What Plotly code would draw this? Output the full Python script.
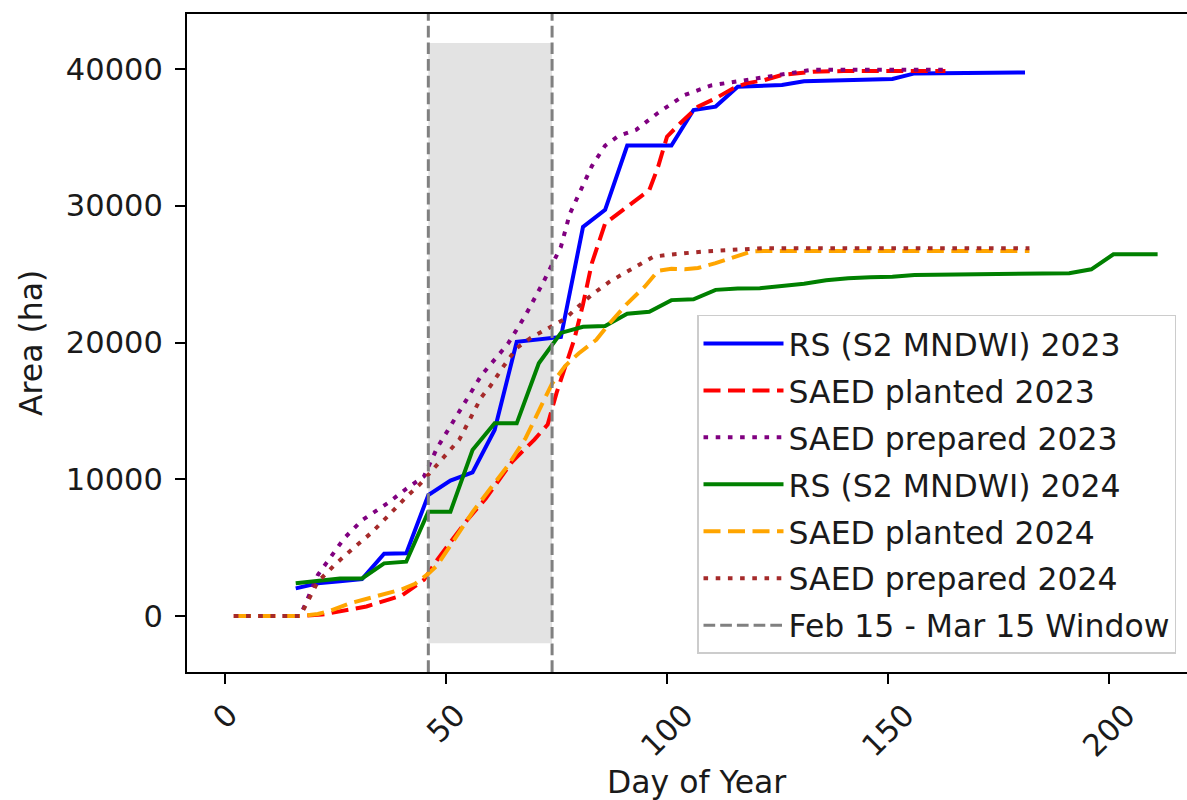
import plotly.graph_objects as go

# ---------------- data ----------------
RS_2023_DAYS = [16, 21, 26, 31, 36, 41, 46, 51, 56, 61, 66, 71, 76, 81, 86, 91, 96,
                101, 106, 111, 116, 121, 126, 131, 136, 141, 146, 151, 156, 161, 166,
                171, 176, 181]
RS_2023_AREA = [2020, 2390, 2540, 2700, 4550, 4580, 8850, 9900, 10500, 13600, 20050,
                20250, 20400, 28450, 29700, 34400, 34400, 34400, 37000, 37250, 38700,
                38750, 38830, 39100, 39150, 39200, 39250, 39270, 39680, 39690, 39700,
                39720, 39740, 39750]

RS_2024_DAYS = [16, 21, 26, 31, 36, 41, 46, 51, 56, 61, 66, 71, 76, 81, 86, 91, 96,
                101, 106, 111, 116, 121, 126, 131, 136, 141, 146, 151, 156, 161, 166,
                171, 176, 181, 186, 191, 196, 201, 206, 211]
RS_2024_AREA = [2390, 2570, 2750, 2750, 3850, 3970, 7630, 7630, 12140, 14090, 14090,
                18480, 20700, 21150, 21200, 22100, 22250, 23100, 23160, 23850, 23950,
                23970, 24100, 24300, 24550, 24700, 24770, 24800, 24940, 24960, 24990,
                25030, 25060, 25060, 25060, 25060, 25350, 26450, 26450, 26450]

PLANTED_2023_DAYS = [2, 7, 12, 17, 22, 27, 32, 37, 40, 45, 48, 51, 55, 59, 62, 65, 70,
                     73, 75, 79, 81, 83, 86, 89, 93, 96, 98, 100, 103, 107, 111, 115,
                     118, 122, 126, 133, 140, 147, 154, 163]
PLANTED_2023_AREA = [0, 0, 0, 0, 100, 400, 700, 1200, 1500, 2650, 4100, 5400, 7100,
                     8600, 9950, 11300, 12900, 14000, 16300, 20200, 22800, 25800, 28700,
                     29450, 30400, 31150, 32860, 35050, 36030, 37250, 37860, 38590,
                     38950, 39190, 39560, 39800, 39850, 39850, 39850, 39850]

PREPARED_2023_DAYS = [2, 7, 12, 17, 19, 21, 23, 27, 31, 37, 41, 45, 48, 54, 58, 64, 68,
                      72, 76, 78, 81, 83, 86, 89, 93, 98, 104, 110, 116, 120, 125, 130,
                      133, 140, 147, 154, 163]
PREPARED_2023_AREA = [0, 0, 0, 0, 1500, 3000, 3900, 5700, 7000, 8300, 9300, 10200,
                      12300, 15500, 17600, 19900, 22000, 24400, 27000, 29400, 31400,
                      32900, 34400, 35100, 35550, 36800, 38100, 38800, 39100, 39300,
                      39600, 39850, 39950, 39950, 39950, 39950, 39950]

PLANTED_2024_DAYS = [2, 7, 12, 17, 21, 24, 28, 32, 36, 40, 43, 46, 48, 52, 56, 60, 64,
                     68, 71, 74, 77, 80, 84, 87, 91, 95, 98, 101, 104, 107, 111, 116,
                     119, 122, 130, 140, 150, 160, 170, 182]
PLANTED_2024_AREA = [0, 0, 0, 0, 150, 400, 900, 1250, 1550, 1950, 2350, 3100, 3700,
                     5700, 7600, 9300, 11000, 13000, 15000, 17000, 18300, 19200, 20200,
                     21400, 22850, 24100, 25250, 25400, 25350, 25450, 25800, 26350,
                     26650, 26700, 26700, 26700, 26700, 26700, 26700, 26700]

PREPARED_2024_DAYS = [2, 7, 12, 17, 21, 25, 29, 33, 37, 41, 44, 47, 51, 53, 58, 60, 63,
                      66, 69, 72, 74, 77, 80, 83, 87, 90, 95, 97, 100, 108, 114, 117,
                      122, 130, 140, 150, 160, 170, 182]
PREPARED_2024_AREA = [0, 0, 0, 0, 2500, 3800, 4950, 6050, 7350, 8700, 9600, 10700,
                      12150, 12900, 16000, 16800, 18250, 19600, 20300, 20850, 21150,
                      21750, 22650, 23500, 24450, 25000, 25950, 26280, 26400, 26650,
                      26760, 26820, 26900, 26900, 26900, 26900, 26900, 26900, 26900]

WINDOW_DAYS = [46, 74]            # Feb 15, Mar 15
WINDOW_FILL_AREA = [-2000, 41900]  # shaded band extent

X_TICKS = [0, 50, 100, 150, 200]
Y_TICKS = [0, 10000, 20000, 30000, 40000]

SERIES_NAMES = ["RS (S2 MNDWI) 2023", "SAED planted 2023", "SAED prepared 2023",
                "RS (S2 MNDWI) 2024", "SAED planted 2024", "SAED prepared 2024"]
WINDOW_NAME = "Feb 15 - Mar 15 Window"

# ---------------- styling ----------------
FONT = "DejaVu Sans"
TXT = "#1a1a1a"
DASH = "17px,7.5px"
DOT = "4.6px,7.6px"
GREY_DASH = "11.7px,5px"

series = [
    (SERIES_NAMES[0], RS_2023_DAYS, RS_2023_AREA, "#0000ff", "solid"),
    (SERIES_NAMES[1], PLANTED_2023_DAYS, PLANTED_2023_AREA, "#ff0000", DASH),
    (SERIES_NAMES[2], PREPARED_2023_DAYS, PREPARED_2023_AREA, "#800080", DOT),
    (SERIES_NAMES[3], RS_2024_DAYS, RS_2024_AREA, "#008000", "solid"),
    (SERIES_NAMES[4], PLANTED_2024_DAYS, PLANTED_2024_AREA, "#ffa500", DASH),
    (SERIES_NAMES[5], PREPARED_2024_DAYS, PREPARED_2024_AREA, "#a52a2a", DOT),
]

fig = go.Figure()
for i, (name, xs, ys, color, dash) in enumerate(series):
    fig.add_trace(go.Scatter(x=xs, y=ys, mode="lines", name=name,
                             legendgroup=f"g{i}",
                             line=dict(color=color, width=4, dash=dash)))

# legend entry for the window lines
fig.add_trace(go.Scatter(x=[None], y=[None], mode="lines", name=WINDOW_NAME,
                         legendgroup="g6",
                         line=dict(color="#808080", width=3, dash=GREY_DASH)))

# shaded window
fig.add_shape(type="rect", xref="x", yref="y",
              x0=WINDOW_DAYS[0], x1=WINDOW_DAYS[1],
              y0=WINDOW_FILL_AREA[0], y1=WINDOW_FILL_AREA[1],
              fillcolor="#e3e3e3", line=dict(width=0), layer="below")
for d in WINDOW_DAYS:
    fig.add_shape(type="line", xref="x", yref="paper", x0=d, x1=d, y0=0, y1=1,
                  line=dict(color="#808080", width=3, dash=GREY_DASH), layer="above")

# rotated x tick labels, centred under the ticks
annotations = []
for t in X_TICKS:
    annotations.append(dict(x=t, xref="x", y=0, yref="paper", text=str(t),
                            textangle=-45, showarrow=False, xanchor="center",
                            yanchor="top", yshift=-23,
                            font=dict(family=FONT, size=30.5, color=TXT)))
annotations.append(dict(x=0.5, xref="paper", y=0, yref="paper", text="Day of Year",
                        showarrow=False, xanchor="center", yanchor="middle",
                        xshift=9, yshift=-110,
                        font=dict(family=FONT, size=31.5, color=TXT)))
annotations.append(dict(x=0, xref="paper", y=0.5, yref="paper", text="Area (ha)",
                        textangle=-90, showarrow=False, xanchor="center",
                        yanchor="middle", xshift=-156,
                        font=dict(family=FONT, size=31.5, color=TXT)))

fig.update_layout(
    width=1187, height=800, autosize=False,
    margin=dict(l=187, r=0, t=14, b=128, pad=0),
    paper_bgcolor="white", plot_bgcolor="white",
    font=dict(family=FONT, size=30, color=TXT),
    showlegend=True,
    legend=dict(x=0.51, y=0.5426, xanchor="left", yanchor="top",
                bgcolor="rgba(255,255,255,0.85)", bordercolor="#cccccc",
                borderwidth=1.5, tracegroupgap=3, itemwidth=80,
                font=dict(family=FONT, size=31.5, color=TXT)),
    annotations=annotations,
    xaxis=dict(range=[-8.6, 217.65], tickvals=X_TICKS, showticklabels=False,
               ticks="outside", ticklen=10, tickwidth=2, tickcolor="black",
               showline=True, linecolor="black", linewidth=2, mirror=True,
               showgrid=False, zeroline=False),
    yaxis=dict(range=[-4095, 44022], tickvals=Y_TICKS, tickformat="d",
               ticks="outside", ticklen=10, tickwidth=2, tickcolor="black",
               ticklabelstandoff=6,
               tickfont=dict(family=FONT, size=30.5, color=TXT),
               showline=True, linecolor="black", linewidth=2, mirror=False,
               showgrid=False, zeroline=False),
)

fig.write_html("out.html")
